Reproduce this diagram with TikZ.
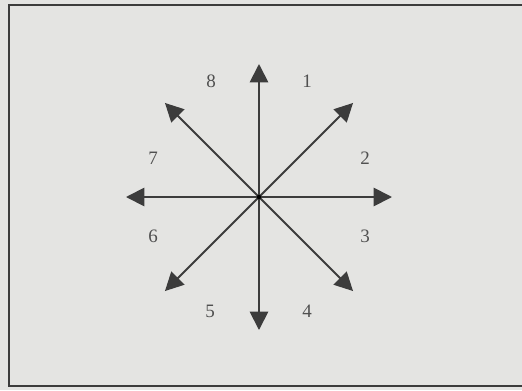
\documentclass[tikz,border=0pt]{standalone}
\usepackage{fontspec}
\setmainfont{Liberation Serif}
\usepackage{tikz}
\usetikzlibrary{calc,arrows.meta}
\definecolor{paper}{RGB}{228,228,226}
\definecolor{ink}{RGB}{60,60,60}
\tikzset{
 dir ray/.style={line width=1.3pt,draw=ink,
                 -{Triangle[length=.46cm,width=.46cm]}},
 dir label/.style={font=\fontsize{13.5}{15}\selectfont,text=ink!90,inner sep=0pt},
 dir frame/.style={line width=1.1pt,draw=ink}
}
\begin{document}
\begin{tikzpicture}[x=.025cm,y=-.025cm]
 \useasboundingbox[fill=paper] (0,0) rectangle (522,390);
 \draw[dir frame] (530,5)--(9,5)--(9,386)--(530,386);
 \coordinate (o) at (259,197);
 % the eight directions, 45 degrees apart
 \foreach \k in {0,...,7}{
   \coordinate (d\k) at ($(o)+({\k*45}:133)$);
   \draw[dir ray] (o)--(d\k);
 }
 \fill[black] (o) circle (2.2);
 \foreach \n/\x/\y in {1/307/81,2/365/158,3/365/236,4/307/311,
                       5/210/311,6/153/236,7/153/158,8/211/81}{
   \node[dir label] (l\n) at (\x,\y) {\n};
 }
\end{tikzpicture}
\end{document}
